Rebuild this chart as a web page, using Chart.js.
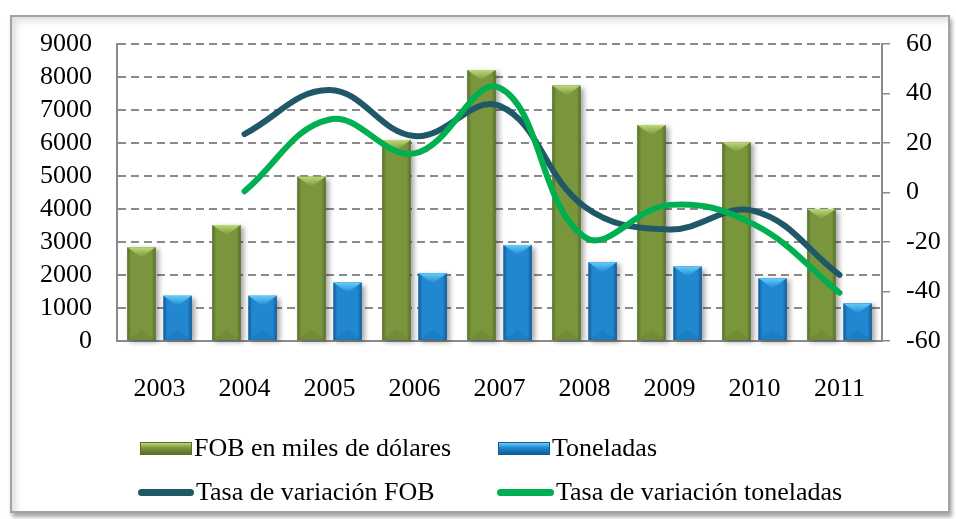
<!DOCTYPE html>
<html>
<head>
<meta charset="utf-8">
<script src="https://cdn.jsdelivr.net/npm/chart.js@4.4.0/dist/chart.umd.min.js"></script>
<style>
  body { margin: 0; background: #fff; }
  #wrap { position: relative; width: 956px; height: 519px; overflow: hidden; }
  #frame {
    position: absolute; left: 10px; top: 15px; width: 936px; height: 494px;
    border: 2px solid #a3a3a3;
    box-shadow: inset 9px 9px 7px -5px rgba(0,0,0,0.13), 2px 4px 4px rgba(0,0,0,0.35);
  }
  #chart { position: absolute; left: 0; top: 0; }
  .item {
    position: absolute; display: flex; align-items: center; transform: translateY(-50%);
    font: 26px "Liberation Serif", "Times New Roman", serif; color: #000; white-space: nowrap;
  }
  .sw { margin-right: 2px; }
</style>
</head>
<body>
<div id="wrap">
  <div id="frame"></div>
  <canvas id="chart" width="956" height="519"></canvas>
  <div id="legend"></div>
</div>
<script>
// years on the x axis
const years = ['2003', '2004', '2005', '2006', '2007', '2008', '2009', '2010', '2011'];
// left axis: bars
const fob = [2840, 3515, 4980, 6090, 8210, 7740, 6545, 6020, 4000];
const toneladas = [1370, 1370, 1770, 2050, 2910, 2385, 2255, 1900, 1140];
// right axis: % change lines (no value for the first year)
const tasaFob = [null, 23.6, 41.4, 22.8, 35, -5.7, -14.9, -7.5, -33.3];
const tasaTon = [null, 0.5, 29.5, 15.8, 42.3, -18, -5, -13, -40.5];
const leftTicks = [0, 9000, 1000];   // min, max, step
const rightTicks = [-60, 60, 20];

const serif = '"Liberation Serif", "Times New Roman", serif';
Chart.defaults.font.family = serif;
Chart.defaults.font.size = 26;
Chart.defaults.color = '#000';

const axisGray = '#8a8a8a';

// repaint bars with side shading, top bevel and a soft shadow
const barLook = {
  id: 'barLook',
  afterDatasetDraw(chart, args) {
    const meta = args.meta;
    if (meta.type !== 'bar') return;
    const c = chart.data.datasets[args.index].shade;
    const ctx = chart.ctx;
    ctx.save();
    meta.data.forEach(bar => {
      const p = bar.getProps(['x', 'y', 'base', 'width'], true);
      const l = p.x - p.width / 2, r = p.x + p.width / 2, h = p.base - p.y;
      ctx.shadowColor = 'rgba(0,0,0,0.35)';
      ctx.shadowBlur = 5;
      ctx.shadowOffsetX = 3;
      ctx.shadowOffsetY = 2;
      const g = ctx.createLinearGradient(l, 0, r, 0);
      g.addColorStop(0, c.dark);
      g.addColorStop(0.14, c.mid);
      g.addColorStop(0.86, c.mid);
      g.addColorStop(1, c.dark);
      ctx.fillStyle = g;
      ctx.fillRect(l, p.y, p.width, h);
      ctx.shadowColor = 'transparent';
      const d = Math.min(p.width * 0.36, h / 2);
      const tg = ctx.createLinearGradient(0, p.y, 0, p.y + d);
      tg.addColorStop(0, c.light);
      tg.addColorStop(1, c.mid);
      ctx.fillStyle = tg;
      ctx.beginPath();
      ctx.moveTo(l, p.y);
      ctx.lineTo(r, p.y);
      ctx.lineTo(p.x, p.y + d);
      ctx.closePath();
      ctx.fill();
      // slightly darker foot
      ctx.fillStyle = 'rgba(0,0,0,0.07)';
      ctx.beginPath();
      ctx.moveTo(l, p.base);
      ctx.lineTo(r, p.base);
      ctx.lineTo(p.x, p.base - d);
      ctx.closePath();
      ctx.fill();
    });
    ctx.restore();
  }
};

const chart = new Chart(document.getElementById('chart'), {
  data: {
    labels: years,
    datasets: [
      {
        type: 'bar', label: 'FOB en miles de dólares', data: fob, yAxisID: 'y', order: 3,
        backgroundColor: '#77933c',
        shade: { dark: '#56702a', mid: '#7a963c', light: '#bcd878' },
        categoryPercentage: 0.85, barPercentage: 0.78
      },
      {
        type: 'bar', label: 'Toneladas', data: toneladas, yAxisID: 'y', order: 3,
        backgroundColor: '#1f87d0',
        shade: { dark: '#145c98', mid: '#2087d0', light: '#66ccf8' },
        categoryPercentage: 0.85, barPercentage: 0.78
      },
      {
        type: 'line', label: 'Tasa de variación FOB', data: tasaFob, yAxisID: 'y1', order: 2,
        borderColor: '#215868', backgroundColor: '#215868', borderWidth: 6,
        borderCapStyle: 'round', tension: 0.4, pointRadius: 0, fill: false
      },
      {
        type: 'line', label: 'Tasa de variación toneladas', data: tasaTon, yAxisID: 'y1', order: 1,
        borderColor: '#00b050', backgroundColor: '#00b050', borderWidth: 6,
        borderCapStyle: 'round', tension: 0.4, pointRadius: 0, fill: false
      }
    ]
  },
  options: {
    responsive: false,
    animation: false,
    layout: { padding: { top: 44, left: 0, right: 0, bottom: 0 } },
    plugins: { legend: { display: false }, tooltip: { enabled: false } },
    scales: {
      x: {
        grid: { display: false },
        border: { color: axisGray, width: 2 },
        ticks: { padding: 25 },
        afterFit: s => { s.height = 178; }
      },
      y: {
        position: 'left',
        min: leftTicks[0], max: leftTicks[1],
        grid: { color: axisGray, lineWidth: 2, drawTicks: false },
        border: { color: axisGray, width: 2, dash: [8, 5] },
        ticks: { stepSize: leftTicks[2], autoSkip: false, padding: 25, callback: v => String(v) },
        afterFit: s => { s.width = 117; }
      },
      y1: {
        position: 'right',
        min: rightTicks[0], max: rightTicks[1],
        grid: { drawOnChartArea: false, color: axisGray, lineWidth: 1.5, tickLength: 8 },
        border: { color: axisGray, width: 2 },
        ticks: { stepSize: rightTicks[2], autoSkip: false, padding: 16, callback: v => String(v) },
        afterFit: s => { s.width = 74; }
      }
    }
  },
  plugins: [barLook]
});

// two-by-two legend under the chart, built from the datasets
const spots = [[140, 448, 50], [498, 448, 50], [138, 492, 56], [497, 492, 57]];
const legend = document.getElementById('legend');
chart.data.datasets.forEach((ds, i) => {
  const [left, top, w] = spots[i];
  const item = document.createElement('div');
  item.className = 'item';
  item.style.left = left + 'px';
  item.style.top = top + 'px';
  const sw = document.createElement('div');
  sw.className = 'sw';
  sw.style.width = w + 'px';
  if (ds.type === 'bar') {
    sw.style.height = '11px';
    sw.style.background = 'linear-gradient(' + ds.shade.light + ',' + ds.shade.mid + ' 45%,' + ds.shade.dark + ')';
    sw.style.border = '1px solid ' + ds.shade.dark;
  } else {
    sw.style.height = '7px';
    sw.style.borderRadius = '4px';
    sw.style.background = ds.borderColor;
  }
  const tx = document.createElement('span');
  tx.textContent = ds.label;
  item.appendChild(sw);
  item.appendChild(tx);
  legend.appendChild(item);
});
</script>
</body>
</html>
